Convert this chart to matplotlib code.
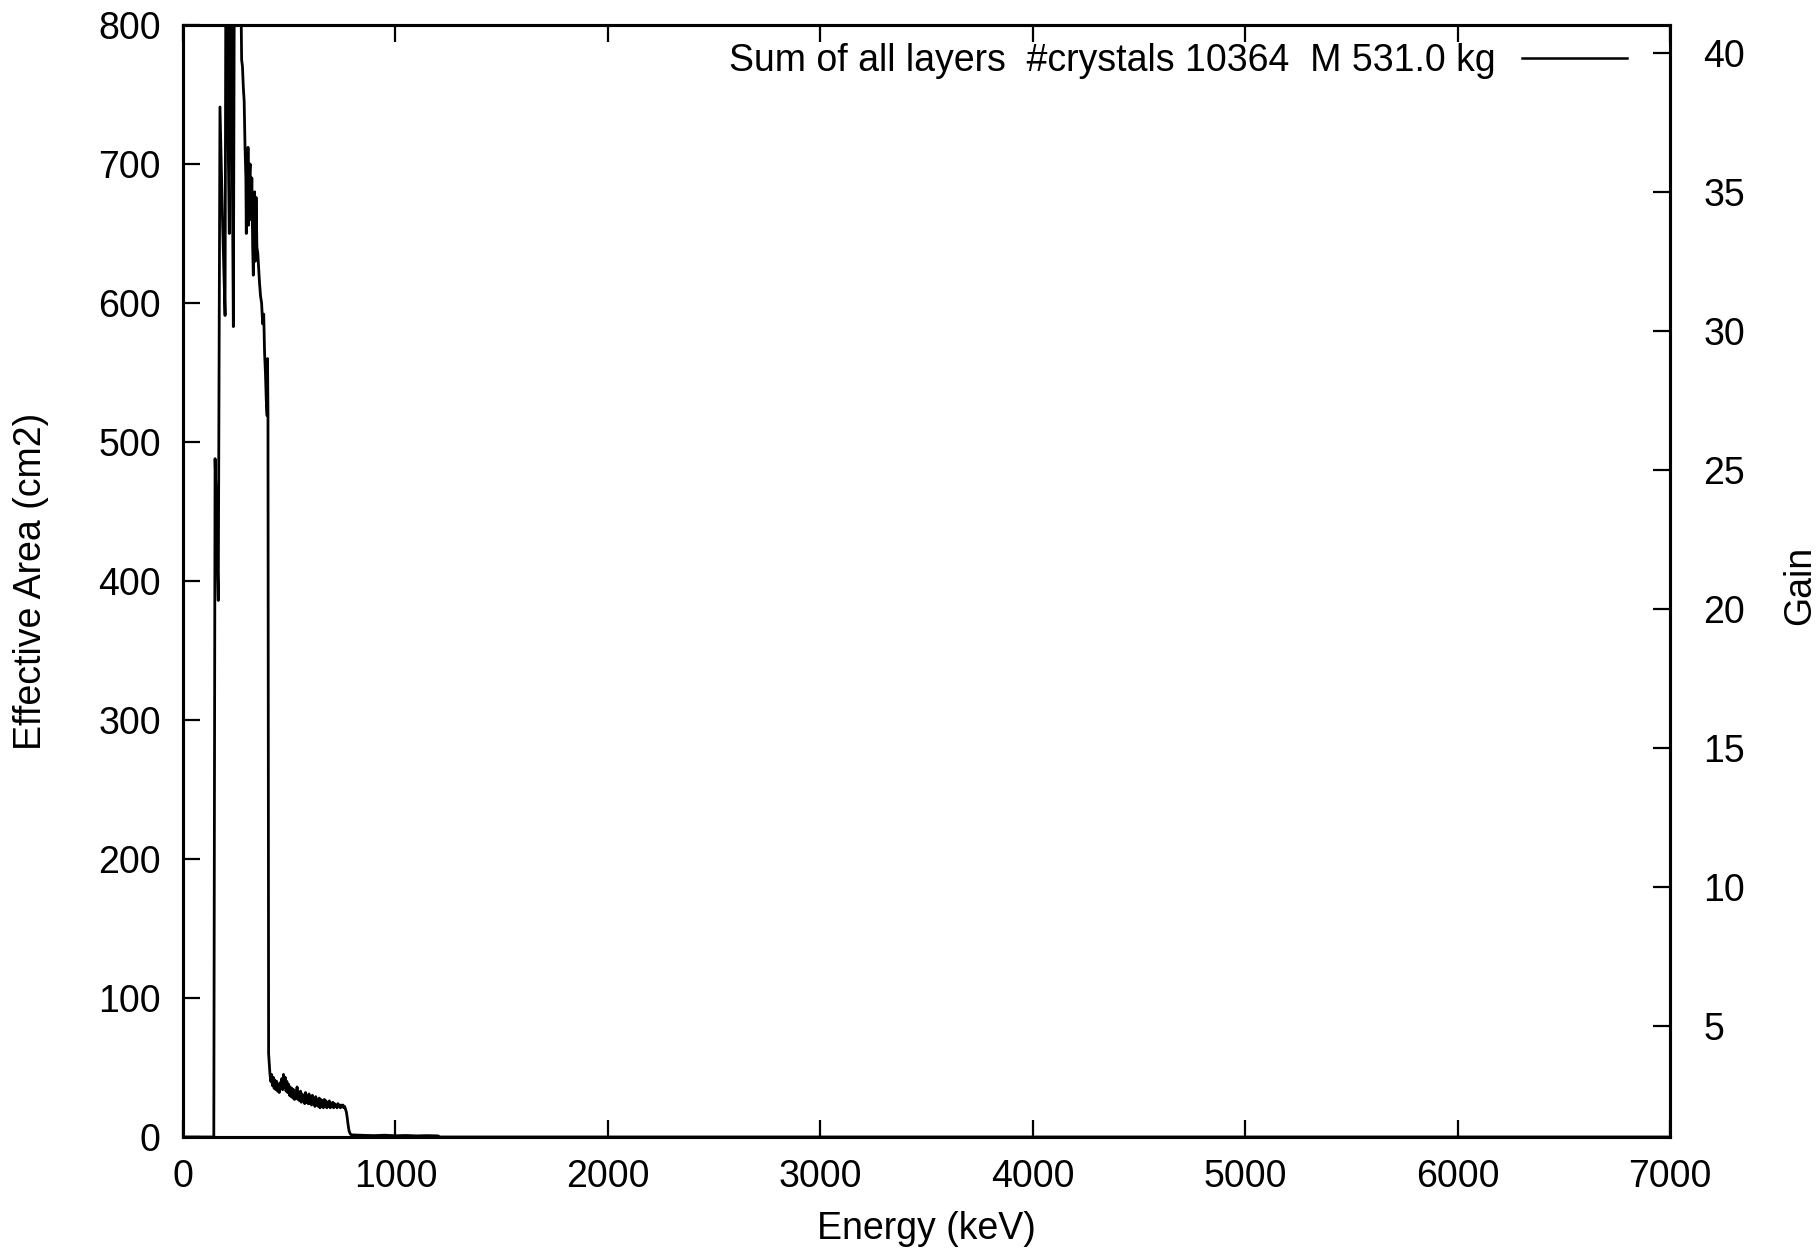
"""
Effective area vs energy (sum of all layers), gnuplot-style plot
"""
import matplotlib
matplotlib.use("Agg")
import matplotlib.pyplot as plt

plt.rcParams['font.family'] = ['Liberation Sans', 'DejaVu Sans']

# Energy grid (keV) and effective area (cm2)
energy_peak = [0, 145, 151, 156, 161, 166, 174, 186, 198, 202, 206, 210, 214, 218,
               221, 226, 232, 237, 242, 252, 262, 270, 276, 280, 284, 288, 292,
               296, 298, 300, 303, 306, 309, 312, 316, 320, 324, 328, 331, 334,
               337, 340, 344, 348, 352, 356, 360, 365, 370, 375, 380, 384, 388,
               392, 396, 398, 400, 403]
area_peak = [0, 0, 488, 460, 420, 386, 741, 660, 591, 860, 860, 760, 700, 650,
             860, 860, 700, 583, 860, 860, 860, 860, 775, 770, 755, 745, 712,
             690, 650, 706, 660, 712, 656, 690, 700, 660, 690, 640, 620, 665,
             680, 630, 676, 640, 636, 625, 615, 605, 600, 585, 592, 564, 550,
             530, 519, 560, 520, 60]

energy_tail = list(range(405, 800, 4))
area_tail = [55, 46, 40, 45, 37, 43, 35, 41, 34, 40, 33, 38, 32, 39, 35, 42,
             34, 45, 36, 43, 33, 40, 32, 38, 30, 36, 29, 35, 28, 34, 27, 33,
             28, 36, 27, 32, 26, 33, 25, 31, 26, 30, 24, 32, 25, 30, 24, 31,
             24, 29, 23, 30, 24, 28, 22, 29, 23, 27, 22, 28, 21, 27, 22, 26,
             21, 27, 22, 26, 21, 25, 22, 26, 21, 24, 22, 25, 21, 24, 22, 23,
             21, 24, 22, 23, 21, 23, 22, 23, 21, 22, 20, 18, 14, 9, 5, 3,
             2, 1.5, 1.5]

energy_end = [800, 850, 900, 950, 1000, 1050, 1100, 1150, 1200, 1210, 7000]
area_end = [1.5, 1.2, 1.0, 1.3, 0.9, 1.1, 0.8, 1.0, 0.8, 0, 0]

energy = energy_peak + energy_tail + energy_end
area = area_peak + area_tail + area_end

label = 'Sum of all layers  #crystals 10364  M 531.0 kg'
FS = 27

W, H = 1819, 1252
fig = plt.figure(figsize=(W / 100, H / 100), dpi=100)
ax = fig.add_axes([183 / W, 1 - 1137 / H, (1670 - 183) / W, (1137 - 25) / H])

ax.plot(energy, area, color='black', lw=2.0, label=label)
ax.set_xlim(0, 7000)
ax.set_ylim(0, 800)
ax.set_xticks(range(0, 7001, 1000))
ax.set_yticks(range(0, 801, 100))

for s in ax.spines.values():
    s.set_linewidth(2.2)
ax.tick_params(axis='both', direction='in', length=12, width=1.6,
               labelsize=FS, top=True, right=True)
ax.tick_params(axis='x', pad=16)
ax.tick_params(axis='y', pad=16)

# Gain axis on the right
ax2 = ax.twinx()
ax2.set_ylim(1, 41)
ax2.set_yticks(range(5, 41, 5))
ax2.tick_params(axis='y', direction='in', length=12, width=1.6,
                labelsize=FS, pad=24)
for s in ax2.spines.values():
    s.set_linewidth(2.2)

leg = ax.legend(loc='upper right', bbox_to_anchor=(1627 / W, 1 - 43 / H),
                bbox_transform=fig.transFigure, frameon=False, fontsize=FS,
                markerfirst=False, handlelength=2.8, handletextpad=0.7,
                borderpad=0, borderaxespad=0)
leg.get_lines()[0].set_linewidth(1.8)

fig.text(31 / W, 1 - 581 / H, 'Effective Area (cm2)', rotation=90,
         ha='center', va='center', fontsize=FS)
fig.text((183 + 1670) / 2 / W, 1 - 1229 / H, 'Energy (keV)',
         ha='center', va='center', fontsize=FS)
fig.text(1800 / W, 1 - 585 / H, 'Gain', rotation=90,
         ha='center', va='center', fontsize=FS)

fig.savefig('out.png', dpi=100)
